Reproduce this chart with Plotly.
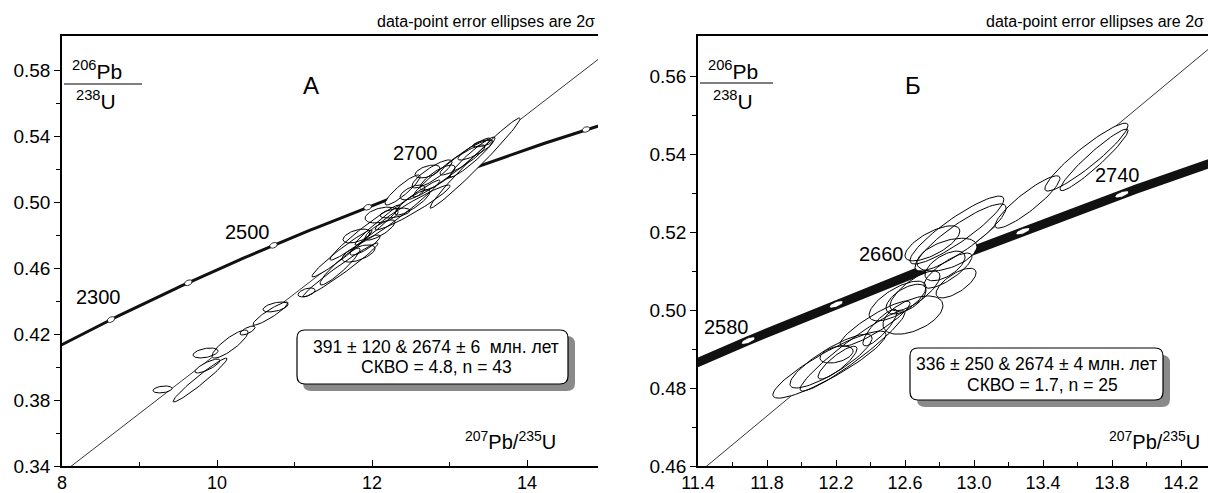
import numpy as np
import plotly.graph_objects as go

W, H = 1208, 493
FONT = "Liberation Sans, Arial, sans-serif"

# decay constants (per Ma)
L238 = 1.55125e-4
L235 = 9.8485e-4

# ---------------- Panel A data ----------------
A_lower_age, A_upper_age = 391, 2674
A_marker_ages = [2300, 2400, 2500, 2600, 2700, 2800]
A_label_ages = ["2300", "2500", "2700"]
A_x = [9.297, 9.781, 9.852, 9.877, 10.168, 10.394, 10.690, 10.755, 11.155, 11.613, 11.594,
       11.826, 11.800, 12.123, 12.297, 11.910, 12.329, 12.523, 12.774, 13.026, 13.329, 13.297,
       13.426, 13.335, 12.716, 12.845, 12.523, 12.523, 11.587, 12.394, 13.168, 12.103, 11.910]
A_y = [0.3864, 0.3921, 0.4085, 0.4006, 0.4139, 0.4221, 0.4324, 0.4364, 0.4452, 0.4688, 0.4588,
       0.4688, 0.4794, 0.4921, 0.4933, 0.4815, 0.4936, 0.4967, 0.5170, 0.5209, 0.5236, 0.5273,
       0.5355, 0.5315, 0.5185, 0.5148, 0.4997, 0.5058, 0.4609, 0.5073, 0.5255, 0.4830, 0.4739]
A_sx = [0.123, 0.348, 0.161, 0.161, 0.232, 0.097, 0.226, 0.161, 0.110, 0.387, 0.484,
        0.213, 0.174, 0.213, 0.194, 0.452, 0.548, 0.484, 0.258, 0.497, 0.581, 0.290,
        0.123, 0.226, 0.161, 0.226, 0.226, 0.161, 0.258, 0.226, 0.290, 0.194, 0.194]
A_sy = [0.0021, 0.0133, 0.0030, 0.0042, 0.0085, 0.0027, 0.0070, 0.0030, 0.0027, 0.0142, 0.0164,
        0.0052, 0.0042, 0.0048, 0.0030, 0.0167, 0.0197, 0.0136, 0.0085, 0.0179, 0.0273, 0.0121,
        0.0021, 0.0061, 0.0039, 0.0076, 0.0076, 0.0045, 0.0112, 0.0091, 0.0091, 0.0061, 0.0061]
A_rho = [0.3, 0.97, 0.4, 0.8, 0.85, 0.7, 0.92, 0.5, 0.5, 0.97, 0.98,
         0.6, 0.5, 0.4, 0.5, 0.97, 0.98, 0.96, 0.85, 0.97, 0.985, 0.95,
         0.6, 0.85, 0.5, 0.8, 0.85, 0.6, 0.93, 0.9, 0.9, 0.8, 0.85]
A_box = ["391\u00a0±\u00a0120 & 2674\u00a0±\u00a06 \u00a0млн. лет", "СКВО = 4.8, n = 43"]

# ---------------- Panel B data ----------------
B_lower_age, B_upper_age = 336, 2674
B_marker_ages = [2580, 2620, 2660, 2700, 2740]
B_label_ages = ["2580", "2660", "2740"]
B_x = [13.652, 13.696, 13.310, 12.901, 12.922, 12.843, 12.849, 12.896, 12.557, 12.606, 12.646,
       12.455, 12.162, 12.171, 12.209, 12.203, 12.426, 12.759, 12.832, 12.296, 12.658]
B_y = [0.5392, 0.5385, 0.5277, 0.5205, 0.5186, 0.5142, 0.5101, 0.5069, 0.5023, 0.5028, 0.4987,
       0.4955, 0.4860, 0.4869, 0.4865, 0.4886, 0.4965, 0.5171, 0.5113, 0.4895, 0.5049]
B_sx = [0.241, 0.197, 0.188, 0.272, 0.264, 0.174, 0.139, 0.116, 0.165, 0.116, 0.174,
        0.099, 0.328, 0.238, 0.113, 0.096, 0.203, 0.159, 0.116, 0.304, 0.145]
B_sy = [0.0087, 0.0079, 0.0067, 0.0087, 0.0086, 0.0042, 0.0045, 0.0038, 0.0051, 0.0038, 0.0049,
        0.0047, 0.0086, 0.0069, 0.0042, 0.0022, 0.0058, 0.0045, 0.0038, 0.0103, 0.0051]
B_rho = [0.93, 0.95, 0.9, 0.9, 0.88, 0.5, 0.8, 0.7, 0.7, 0.6, 0.5,
         0.85, 0.9, 0.85, 0.85, 0.4, 0.9, 0.7, 0.6, 0.95, 0.75]
B_box = ["336 ± 250 & 2674 ± 4 млн. лет", "СКВО = 1.7, n = 25"]

# ---------------- layout geometry (pixels) ----------------
PLOT_TOP, PLOT_BOT = 36, 466
A_L, A_R = 62, 598
B_L, B_R = 698, 1208
A_xr = [8, 8 + (A_R - A_L) / 77.5]
A_yr = [0.34, 0.34 + (PLOT_BOT - PLOT_TOP) / 1650]
B_xr = [11.4, 11.4 + (B_R - B_L) / 172.5]
B_yr = [0.46, 0.46 + (PLOT_BOT - PLOT_TOP) / 3900]


def px(x):
    return x / W


def py(y):
    return 1 - y / H


def r206(t):
    return np.exp(L238 * np.asarray(t, float)) - 1


def r207(t):
    return np.exp(L235 * np.asarray(t, float)) - 1


def ellipse_paths(xs, ys, sxs, sys, rhos, n=72):
    t = np.linspace(0, 2 * np.pi, n)
    X, Y = [], []
    for cx, cy, sx, sy, r in zip(xs, ys, sxs, sys, rhos):
        X += list(cx + sx * np.cos(t)) + [None]
        Y += list(cy + sy * (r * np.cos(t) + np.sqrt(1 - r * r) * np.sin(t))) + [None]
    return X, Y


def marker_paths(ages, kx, ky, a, b, n=40):
    t = np.linspace(0, 2 * np.pi, n)
    X, Y = [], []
    for age in ages:
        cx, cy = float(r207(age)), float(r206(age))
        slope = (L238 * np.exp(L238 * age)) / (L235 * np.exp(L235 * age)) * ky / kx
        ang = np.arctan(slope)
        u, v = a * np.cos(t), b * np.sin(t)
        dx = u * np.cos(ang) - v * np.sin(ang)
        dy = u * np.sin(ang) + v * np.cos(ang)
        X += list(cx + dx / kx) + [None]
        Y += list(cy + dy / ky) + [None]
    return X, Y


fig = go.Figure()


def add_panel(xa, ya, lo, up, ages_line, conc_w, mk_ages, kx, ky, ma, mb,
              ex, ey, esx, esy, erho):
    # discordia
    x0, y0 = float(r207(lo)), float(r206(lo))
    x1, y1 = float(r207(up)), float(r206(up))
    s = (y1 - y0) / (x1 - x0)
    fig.add_trace(go.Scatter(x=[x0, 20], y=[y0, y0 + s * (20 - x0)], mode="lines",
                             line=dict(color="black", width=0.8), xaxis=xa, yaxis=ya,
                             hoverinfo="skip", showlegend=False))
    # concordia
    fig.add_trace(go.Scatter(x=r207(ages_line), y=r206(ages_line), mode="lines",
                             line=dict(color="#111", width=conc_w), xaxis=xa, yaxis=ya,
                             hoverinfo="skip", showlegend=False))
    # age markers
    mx, my = marker_paths(mk_ages, kx, ky, ma, mb)
    fig.add_trace(go.Scatter(x=mx, y=my, mode="lines", fill="toself", fillcolor="white",
                             line=dict(color="black", width=0.8), xaxis=xa, yaxis=ya,
                             hoverinfo="skip", showlegend=False))
    # ellipses: fills then outlines
    X, Y = ellipse_paths(ex, ey, esx, esy, erho)
    fig.add_trace(go.Scatter(x=X, y=Y, mode="lines", fill="toself", fillcolor="white",
                             line=dict(color="rgba(0,0,0,0)", width=0), xaxis=xa, yaxis=ya,
                             hoverinfo="skip", showlegend=False))
    fig.add_trace(go.Scatter(x=X, y=Y, mode="lines",
                             line=dict(color="black", width=1), xaxis=xa, yaxis=ya,
                             hoverinfo="skip", showlegend=False))


add_panel("x", "y", A_lower_age, A_upper_age, np.arange(2150, 2950, 5), 3,
          A_marker_ages, 77.5, 1650, 4, 2.6, A_x, A_y, A_sx, A_sy, A_rho)
add_panel("x2", "y2", B_lower_age, B_upper_age, np.arange(2500, 2850, 2), 9,
          B_marker_ages, 172.5, 3900, 7.5, 2.6, B_x, B_y, B_sx, B_sy, B_rho)

axis_common = dict(showgrid=False, zeroline=False, showline=True, linecolor="black",
                   linewidth=1.5, ticks="outside", tickcolor="black", ticklen=6, tickwidth=1.2,
                   tickfont=dict(family=FONT, size=19, color="black"), automargin=False)
xtickfont = dict(family=FONT, size=18, color="black")

fig.update_layout(
    width=W, height=H, margin=dict(l=0, r=0, t=0, b=0),
    paper_bgcolor="white", plot_bgcolor="white", template="none", showlegend=False,
    xaxis=dict(axis_common, domain=[px(A_L), px(A_R)], range=A_xr, tickvals=[8, 10, 12, 14],
               ticktext=["8", "10", "12", "14"], ticks="inside", mirror=True, anchor="y",
               tickfont=xtickfont,
               minor=dict(tickvals=[9, 11, 13], ticks="inside", ticklen=4, tickcolor="black")),
    yaxis=dict(axis_common, domain=[py(PLOT_BOT), py(PLOT_TOP)], range=A_yr,
               tickvals=[0.34, 0.38, 0.42, 0.46, 0.50, 0.54, 0.58], tickformat=".2f", anchor="x",
               minor=dict(tickvals=[0.36, 0.40, 0.44, 0.48, 0.52, 0.56], ticks="outside",
                          ticklen=4, tickcolor="black")),
    xaxis2=dict(axis_common, domain=[px(B_L), px(B_R)], range=B_xr,
                tickvals=[11.4, 11.8, 12.2, 12.6, 13.0, 13.4, 13.8, 14.2], tickformat=".1f",
                ticks="inside", mirror=True, anchor="y2", tickfont=xtickfont,
                minor=dict(tickvals=[11.6, 12.0, 12.4, 12.8, 13.2, 13.6, 14.0], ticks="inside",
                           ticklen=4, tickcolor="black")),
    yaxis2=dict(axis_common, domain=[py(PLOT_BOT), py(PLOT_TOP)], range=B_yr,
                tickvals=[0.46, 0.48, 0.50, 0.52, 0.54, 0.56], tickformat=".2f", anchor="x2",
                minor=dict(tickvals=[0.47, 0.49, 0.51, 0.53, 0.55], ticks="outside",
                           ticklen=4, tickcolor="black")),
)

ann = []


def text(x, y, s, size, xanchor="center", yanchor="middle"):
    ann.append(dict(x=px(x), y=py(y), xref="paper", yref="paper", text=s, showarrow=False,
                    xanchor=xanchor, yanchor=yanchor,
                    font=dict(family=FONT, size=size, color="black")))


# headers
text(597, 22, "data-point error ellipses are 2σ", 16, xanchor="right")
text(1206, 22, "data-point error ellipses are 2σ", 16, xanchor="right")
# y labels
text(97, 70, "<sup>206</sup>Pb", 21)
text(96, 100, "<sup>238</sup>U", 21)
text(733, 70, "<sup>206</sup>Pb", 21)
text(733, 100, "<sup>238</sup>U", 21)
# x labels
text(510, 440, "<sup>207</sup>Pb/<sup>235</sup>U", 20)
text(1154, 440, "<sup>207</sup>Pb/<sup>235</sup>U", 20)
# panel letters
text(311, 86, "А", 24)
text(913, 86, "Б", 24)
# age labels
for (xx, yy), s in zip([(98, 297), (247, 232), (415, 153)], A_label_ages):
    text(xx, yy, s, 20)
for (xx, yy), s in zip([(726, 327), (881, 254), (1117, 175)], B_label_ages):
    text(xx, yy, s, 20)
# box texts
text(436, 347, A_box[0], 17.5)
text(436, 367, A_box[1], 17.5)
text(1036, 364, B_box[0], 17.5)
text(1042, 385, B_box[1], 17.5)

shapes = []


def rrect(x0, y0, x1, y1, r, fill, line):
    p = (f"M {px(x0 + r)} {py(y0)} L {px(x1 - r)} {py(y0)} Q {px(x1)} {py(y0)} {px(x1)} {py(y0 + r)} "
         f"L {px(x1)} {py(y1 - r)} Q {px(x1)} {py(y1)} {px(x1 - r)} {py(y1)} "
         f"L {px(x0 + r)} {py(y1)} Q {px(x0)} {py(y1)} {px(x0)} {py(y1 - r)} "
         f"L {px(x0)} {py(y0 + r)} Q {px(x0)} {py(y0)} {px(x0 + r)} {py(y0)} Z")
    shapes.append(dict(type="path", xref="paper", yref="paper", path=p, fillcolor=fill,
                       line=dict(color=line, width=1.2 if line != fill else 0), layer="above"))


# fraction bars for y labels
shapes.append(dict(type="line", xref="paper", yref="paper", x0=px(64), x1=px(142), y0=py(84), y1=py(84),
                   line=dict(color="black", width=1.2)))
shapes.append(dict(type="line", xref="paper", yref="paper", x0=px(700), x1=px(773), y0=py(83), y1=py(83),
                   line=dict(color="black", width=1.2)))
# boxes with shadow
rrect(303, 336, 575, 391, 8, "#8a8a8a", "#8a8a8a")
rrect(297, 330, 568, 384, 8, "white", "black")
rrect(917, 355, 1170, 407, 8, "#8a8a8a", "#8a8a8a")
rrect(910, 348, 1163, 400, 8, "white", "black")

fig.update_layout(annotations=ann, shapes=shapes)

fig.write_html("out.html", config={"displayModeBar": False},
               post_script="document.body.style.margin='0';document.body.style.overflow='hidden';")
